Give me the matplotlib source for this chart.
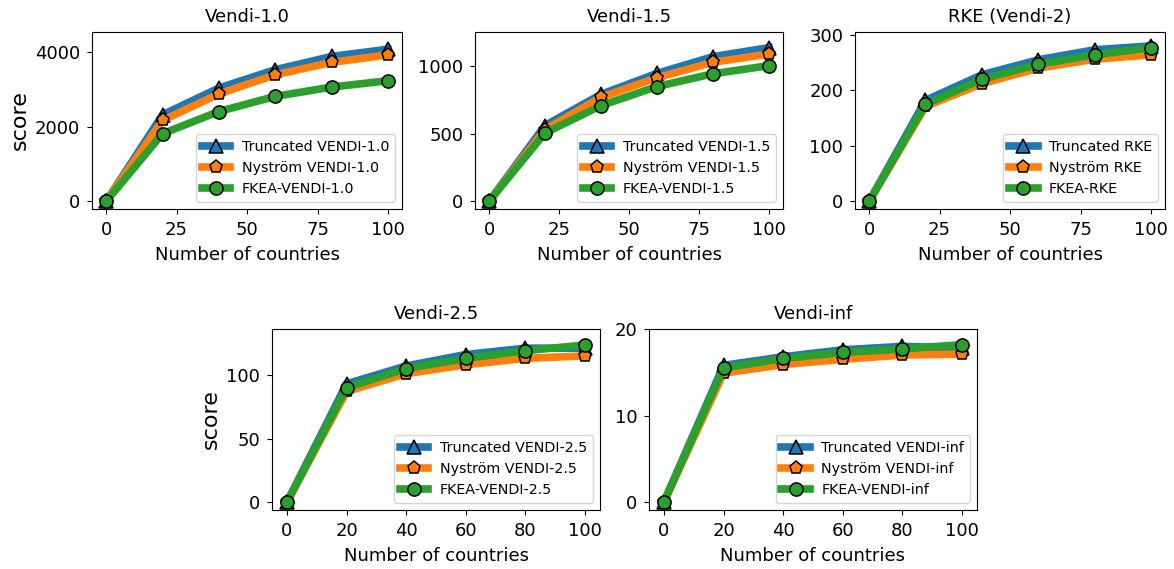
import matplotlib
matplotlib.use("Agg")
import matplotlib.pyplot as plt

# number of countries on the x axis
countries = [0, 20, 40, 60, 80, 100]

# Vendi-1.0
trunc_v10 = [0, 2320, 3040, 3530, 3885, 4080]
nys_v10 = [0, 2170, 2880, 3395, 3725, 3930]
fkea_v10 = [0, 1815, 2410, 2815, 3065, 3235]

# Vendi-1.5
trunc_v15 = [0, 560, 790, 945, 1068, 1135]
nys_v15 = [0, 530, 768, 913, 1027, 1088]
fkea_v15 = [0, 505, 707, 848, 942, 1002]

# RKE (Vendi-2)
trunc_rke = [0, 182, 228, 255, 273, 280]
nys_rke = [0, 171, 212, 240, 256, 264]
fkea_rke = [0, 175, 220, 247, 264, 277]

# Vendi-2.5
trunc_v25 = [0, 93, 107, 116, 121, 121]
nys_v25 = [0, 87, 101, 108, 113, 115]
fkea_v25 = [0, 90, 105, 113, 119, 123.5]

# Vendi-inf
trunc_vinf = [0, 15.8, 16.8, 17.6, 18.0, 17.8]
nys_vinf = [0, 14.9, 15.9, 16.5, 17.0, 17.1]
fkea_vinf = [0, 15.5, 16.6, 17.3, 17.7, 18.2]

panels = [
    ("Vendi-1.0", trunc_v10, nys_v10, fkea_v10,
     ["Truncated VENDI-1.0", "Nyström VENDI-1.0", "FKEA-VENDI-1.0"],
     [0, 2000, 4000], (-203, 4540), [0, 25, 50, 75, 100]),
    ("Vendi-1.5", trunc_v15, nys_v15, fkea_v15,
     ["Truncated VENDI-1.5", "Nyström VENDI-1.5", "FKEA-VENDI-1.5"],
     [0, 500, 1000], (-56, 1250), [0, 25, 50, 75, 100]),
    ("RKE (Vendi-2)", trunc_rke, nys_rke, fkea_rke,
     ["Truncated RKE", "Nyström RKE", "FKEA-RKE"],
     [0, 100, 200, 300], (-13.5, 305), [0, 25, 50, 75, 100]),
    ("Vendi-2.5", trunc_v25, nys_v25, fkea_v25,
     ["Truncated VENDI-2.5", "Nyström VENDI-2.5", "FKEA-VENDI-2.5"],
     [0, 50, 100], (-6, 136), [0, 20, 40, 60, 80, 100]),
    ("Vendi-inf", trunc_vinf, nys_vinf, fkea_vinf,
     ["Truncated VENDI-inf", "Nyström VENDI-inf", "FKEA-VENDI-inf"],
     [0, 10, 20], (-0.9, 20.0), [0, 20, 40, 60, 80, 100]),
]

# axes boxes in figure fractions (left, bottom, width, height)
boxes = [
    [0.0784, 0.6327, 0.2641, 0.311],
    [0.4046, 0.6327, 0.2624, 0.311],
    [0.7283, 0.6327, 0.2641, 0.311],
    [0.2317, 0.1037, 0.2794, 0.318],
    [0.5528, 0.1037, 0.2794, 0.318],
]

fig = plt.figure(figsize=(11.74, 5.69), dpi=100)

for i, (title, tr, ny, fk, labels, yt, yl, xt) in enumerate(panels):
    ax = fig.add_axes(boxes[i])
    ax.plot(countries, tr, color="C0", lw=5.5, marker="^", ms=9.5, mec="black", mew=1.1, label=labels[0])
    ax.plot(countries, ny, color="C1", lw=5.5, marker="p", ms=9.5, mec="black", mew=1.1, label=labels[1])
    ax.plot(countries, fk, color="C2", lw=5.5, marker="o", ms=9.5, mec="black", mew=1.1, label=labels[2])
    ax.set_title(title, fontsize=13, pad=7)
    ax.set_xlabel("Number of countries", fontsize=13, labelpad=5)
    ax.set_xticks(xt)
    ax.set_yticks(yt)
    ax.set_ylim(*yl)
    ax.tick_params(labelsize=13, pad=5)
    if i in (0, 3):
        ax.set_ylabel("score", fontsize=16)
    ax.legend(loc="lower right", fontsize=10.3)

fig.savefig("out.png", dpi=100)
